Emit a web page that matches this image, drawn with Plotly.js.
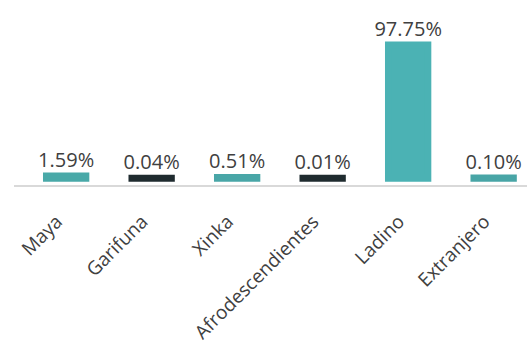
<!DOCTYPE html>
<html>
<head>
<meta charset="utf-8">
<script src="https://cdn.plot.ly/plotly-3.0.1.min.js"></script>
<style>html,body{margin:0;padding:0;background:#fff;}#chart{width:527px;height:349px;}</style>
</head>
<body>
<div id="chart"></div>
<script>
const categories = ["Maya", "Garifuna", "Xinka", "Afrodescendientes", "Ladino", "Extranjero"];
const percentages = [1.59, 0.04, 0.51, 0.01, 97.75, 0.10];
const barColors = ["#49a9a8", "#1f2b2f", "#49a6a7", "#1f2b2f", "#4bb2b4", "#48a5a6"];

const trace = {
  type: "bar",
  x: categories,
  y: percentages,
  width: 0.46,
  offset: -0.12,
  marker: { color: barColors, line: { color: barColors, width: 7 } },
  text: percentages.map(v => v.toFixed(2) + "%"),
  textposition: "outside",
  textfont: { family: "Open Sans, sans-serif", size: 20, color: "#404040" },
  cliponaxis: false,
  hoverinfo: "none"
};

const layout = {
  width: 527, height: 349,
  margin: { l: 14, r: 0, t: 35, b: 164 },
  paper_bgcolor: "#ffffff",
  plot_bgcolor: "#ffffff",
  showlegend: false,
  uniformtext: { mode: "show", minsize: 20 },
  xaxis: {
    type: "category",
    tickangle: -45,
    ticks: "",
    ticklabelstandoff: 16,
    tickfont: { family: "Open Sans, sans-serif", size: 19, color: "#404040" },
    showline: true, linecolor: "#d9d9d9", linewidth: 2,
    showgrid: false, zeroline: false
  },
  yaxis: {
    range: [-5, 105],
    visible: false,
    showgrid: false, zeroline: false
  }
};

Plotly.newPlot("chart", [trace], layout, { staticPlot: true, displayModeBar: false });
</script>
</body>
</html>
